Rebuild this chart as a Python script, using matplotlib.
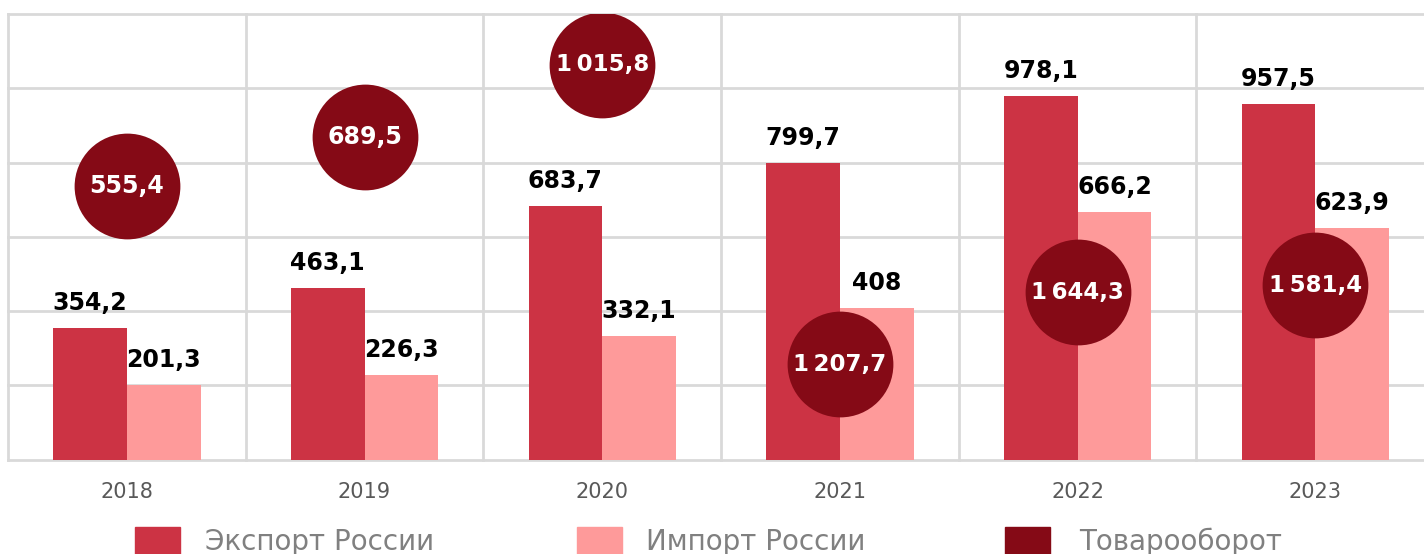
import matplotlib
matplotlib.use("Agg")
import matplotlib.pyplot as plt
from matplotlib.patches import Rectangle

years = ["2018", "2019", "2020", "2021", "2022", "2023"]
export_vals = [354.2, 463.1, 683.7, 799.7, 978.1, 957.5]
import_vals = [201.3, 226.3, 332.1, 408.0, 666.2, 623.9]
turnover_vals = [555.4, 689.5, 1015.8, 1207.7, 1644.3, 1581.4]
# height (in bar units) where each turnover bubble sits, as laid out in the original
bubble_level = [737, 869, 1063, 257, 451, 470]

legend_labels = ["Экспорт России", "Импорт России", "Товарооборот"]

c_export = "#cc3344"
c_import = "#fe9a9a"
c_turn = "#850a16"
c_grid = "#d9d9d9"


def fmt(v):
    # russian style: thin space for thousands, comma for decimals
    s = f"{v:,.1f}".replace(",", "\u2009").replace(".", ",")
    if s.endswith(",0"):
        s = s[:-2]
    return s


W, H = 1424, 554
fig = plt.figure(figsize=(W / 100, H / 100), dpi=100)
cat_w = 237.7
ax = fig.add_axes([8 / W, (H - 459.5) / H, 6 * cat_w / W, 445.5 / H])

x = list(range(len(years)))
bw = 0.31
xe = [i - bw / 2 for i in x]
xi = [i + bw / 2 for i in x]

ax.bar(xe, export_vals, width=bw, color=c_export, zorder=2)
ax.bar(xi, import_vals, width=bw, color=c_import, zorder=2)

for xx, v in zip(xe, export_vals):
    ax.annotate(fmt(v), (xx, v), xytext=(0, 13), textcoords="offset points",
                ha="center", va="baseline", fontsize=17, fontweight="bold",
                color="black", zorder=3)
for xx, v in zip(xi, import_vals):
    ax.annotate(fmt(v), (xx, v), xytext=(0, 13), textcoords="offset points",
                ha="center", va="baseline", fontsize=17, fontweight="bold",
                color="black", zorder=3)

ax.scatter(x, bubble_level, s=5800, color=c_turn, zorder=4, linewidths=0)
for xx, yy, v in zip(x, bubble_level, turnover_vals):
    ax.text(xx, yy, fmt(v), ha="center", va="center", fontsize=17 if v < 1000 else 16.5,
            fontweight="bold", color="white", zorder=5)

ax.set_xlim(-0.5, 5.5)
ax.set_ylim(0, 1200)
ax.set_yticks(range(0, 1201, 200))
ax.set_xticks(x)
ax.set_xticklabels(years)
ax.set_xticks([i - 0.5 for i in range(7)], minor=True)
ax.tick_params(axis="x", which="both", length=0, pad=16, labelsize=15,
               labelcolor="#595959")
ax.tick_params(axis="y", which="both", length=0, labelleft=False)
ax.grid(axis="y", color=c_grid, linewidth=2, zorder=0)
ax.grid(axis="x", which="minor", color=c_grid, linewidth=2, zorder=0)
ax.set_axisbelow(True)
for line in ax.get_ygridlines():
    line.set_clip_on(False)
for t in ax.xaxis.get_minor_ticks():
    t.gridline.set_clip_on(False)
for sp in ax.spines.values():
    sp.set_visible(False)

# legend drawn by hand along the bottom edge (cut off like in the original)
sq_x = [135, 577, 1005]
txt_x = [205, 646, 1079]
for sx, tx, lab, col in zip(sq_x, txt_x, legend_labels, [c_export, c_import, c_turn]):
    fig.patches.append(Rectangle((sx / W, -17 / H), 45 / W, 44 / H,
                                 transform=fig.transFigure, color=col))
    fig.text(tx / W, 4 / H, lab, fontsize=20, color="#808080",
             ha="left", va="baseline")

fig.savefig("out.png", dpi=100)
